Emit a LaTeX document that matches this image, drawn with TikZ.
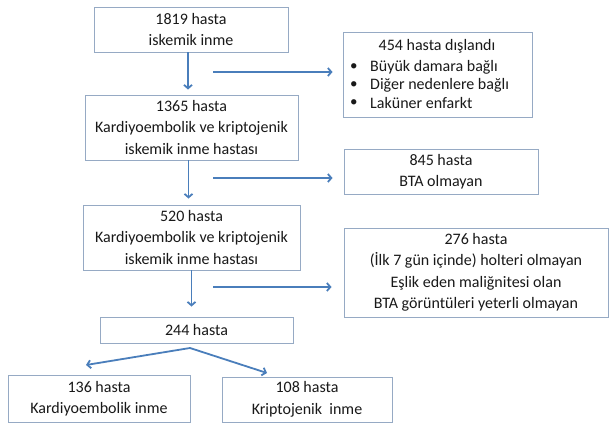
\documentclass[tikz,border=0pt]{standalone}
\usepackage{fontspec}
\setmainfont{Carlito}
\usetikzlibrary{arrows.meta,calc}
\definecolor{boxline}{RGB}{150,170,196}
\definecolor{arrblue}{RGB}{74,126,187}
\definecolor{txt}{RGB}{25,25,25}
\tikzset{
  fbox/.style={draw=boxline, line width=0.9pt, fill=white, inner sep=0pt, align=center,
    text=txt, font=\fontsize{16}{21.5}\selectfont},
  plain/.style={inner sep=0pt, text=txt, font=\fontsize{16}{18}\selectfont},
  arr/.style={draw=arrblue, line width=1.8pt, -{Straight Barb[length=3.5pt,width=8pt]}}
}
\begin{document}
\begin{tikzpicture}[x=1pt,y=-1pt]
\useasboundingbox (0,0) rectangle (611,426);
% main column
\node[fbox, minimum width=194pt, minimum height=45pt] (b1) at (191,29.5) {1819 hasta\\iskemik inme};
\node[fbox, minimum width=213pt, minimum height=65pt] (b2) at (191.5,127.5) {1365 hasta\\Kardiyoembolik ve kriptojenik\\iskemik inme hastası};
\node[fbox, minimum width=217pt, minimum height=65pt] (b3) at (191.5,237.5) {520 hasta\\Kardiyoembolik ve kriptojenik\\iskemik inme hastası};
\node[fbox, minimum width=193pt, minimum height=26pt] (b4) at (196.5,330) {244 hasta};
\node[fbox, minimum width=182pt, minimum height=47pt] (b5) at (99,398.5) {136 hasta\\Kardiyoembolik inme};
\node[fbox, minimum width=170pt, minimum height=45pt] (b6) at (307,399.5) {108 hasta\\Kriptojenik\ \ inme};
% side boxes
\node[fbox, minimum width=189pt, minimum height=85pt] (e1) at (437.5,74.5) {};
\node[plain] (e1t) at (437,46) {454 hasta dışlandı};
\node[plain, anchor=west] (e1b1) at (350,67) {\fontsize{15}{15}\selectfont •};
\node[plain, anchor=west] (e1l1) at (370,67) {Büyük damara bağlı};
\node[plain, anchor=west] (e1b2) at (350,85) {\fontsize{15}{15}\selectfont •};
\node[plain, anchor=west] (e1l2) at (370,85) {Diğer nedenlere bağlı};
\node[plain, anchor=west] (e1b3) at (350,103) {\fontsize{15}{15}\selectfont •};
\node[plain, anchor=west] (e1l3) at (370,103) {Laküner enfarkt};
\node[fbox, minimum width=194pt, minimum height=45pt] (e2) at (441,171.5) {845 hasta\\BTA olmayan};
\node[fbox, minimum width=264pt, minimum height=89pt] (e3) at (476,272.5) {276 hasta\\(İlk 7 gün içinde) holteri olmayan\\Eşlik eden maliğnitesi olan\\BTA görüntüleri yeterli olmayan};
% vertical arrows
\draw[arr, shorten >=5pt] ([xshift=-3pt]b1.south) -- ([xshift=-3pt]b1.south |- b2.north);
\draw[arr, shorten >=6pt] ([xshift=-3pt]b2.south) -- ([xshift=-3pt]b2.south |- b3.north);
\draw[arr, shorten >=10pt] (b3.south) -- (b3.south |- b4.north);
% horizontal arrows
\coordinate (h1) at (213,72);
\coordinate (h2) at (213,178);
\coordinate (h3) at (213,287);
\draw[arr, shorten >=10pt] (h1) -- (h1 -| e1.west);
\draw[arr, shorten >=11pt] (h2) -- (h2 -| e2.west);
\draw[arr, shorten >=12pt] (h3) -- (h3 -| e3.west);
% split arrows
\coordinate (s0) at (190,348);
\coordinate (s1) at (86,365);
\coordinate (s2) at (267,373);
\draw[arr] (s0) -- (s1);
\draw[arr] (s0) -- (s2);
\end{tikzpicture}
\end{document}
